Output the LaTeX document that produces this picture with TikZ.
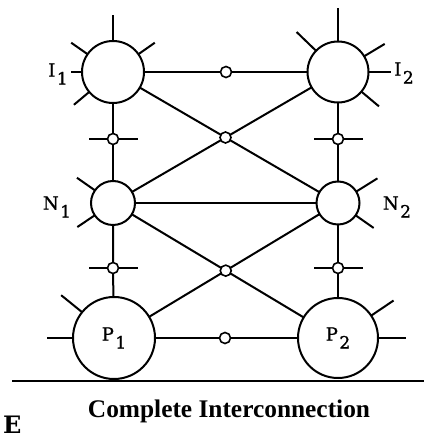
\documentclass[tikz,border=0pt]{standalone}
\usepackage{fontspec}
\setmainfont{DejaVu Serif}
\newfontfamily\capfont{Liberation Serif}
\newfontfamily\labfont[FakeBold=1.2]{DejaVu Serif}
\usetikzlibrary{calc}
\newcommand\lab[2]{#1\hspace{1.5pt}\raisebox{-8pt}{\fontsize{17}{17}\selectfont #2}}
\newcommand\spk[3]{\draw (#1.#2) -- ++(#2:#3);}
\begin{document}
\begin{tikzpicture}[x=1pt,y=1pt,line width=2pt,
  unit/.style={circle,draw,inner sep=0pt,outer sep=0pt,minimum size=#1},
  jn/.style={circle,draw,fill=white,inner sep=0pt,outer sep=0pt,minimum size=11pt,line width=1.6pt},
  lbl/.style={inner sep=0pt,font=\labfont\fontsize{18}{18}\selectfont}]
\useasboundingbox (0,0) rectangle (424,441);
% big units
\node[unit=62pt] (I1) at (113,369) {};
\node[unit=61pt] (I2) at (338,369) {};
\node[unit=44pt] (N1) at (113,238) {};
\node[unit=43pt] (N2) at (338,238) {};
\node[unit=82pt,lbl] (P1) at (114,103) {\lab{P}{1}};
\node[unit=80pt,lbl] (P2) at (338,103) {\lab{P}{2}};
% junctions
\node[jn] (t1) at (226,369) {};
\node[jn] (b1) at (225,103) {};
\node[jn] (v1) at (113,302) {};
\node[jn] (v2) at (338,302) {};
\node[jn] (v3) at (113,173) {};
\node[jn] (v4) at (338,173) {};
\node[jn] (x1) at (intersection of I1.center--N2.center and N1.center--I2.center) {};
\node[jn] (x2) at (intersection of N1.center--P2.center and P1.center--N2.center) {};
% labels
\node[lbl] (lI1) at (58,367) {\lab{I}{1}};
\node[lbl] (lI2) at (404,368) {\lab{I}{2}};
\node[lbl] (lN1) at (57,234) {\lab{N}{1}};
\node[lbl] (lN2) at (397,234) {\lab{N}{2}};
% connectors
\draw (I1) -- (t1) -- (I2);
\draw (P1) -- (b1) -- (P2);
\draw (N1) -- (N2);
\draw (I1) -- (v1) -- (N1);
\draw (I2) -- (v2) -- (N2);
\draw (N1) -- (v3) -- (P1);
\draw (N2) -- (v4) -- (P2);
\draw (I1) -- (x1) -- (N2);
\draw (N1) -- (x1) -- (I2);
\draw (N1) -- (x2) -- (P2);
\draw (P1) -- (x2) -- (N2);
% cross bars on vertical junctions
\foreach \v in {v1,v2,v3,v4}{
  \draw (\v.west) -- ++(-19,0);
  \draw (\v.east) -- ++(19,0);
}
% spokes
\spk{I1}{90}{26}\spk{I1}{145}{20}\spk{I1}{35}{20}\spk{I1}{180}{11}\spk{I1}{220}{20}
\spk{I2}{90}{33}\spk{I2}{136}{27}\spk{I2}{31}{24}\spk{I2}{0}{22}\spk{I2}{-40}{23}
\spk{N1}{145}{22}\spk{N1}{214}{21}
\spk{N2}{32}{25}\spk{N2}{-35}{22}
\spk{P1}{141}{27}\spk{P1}{180}{26}
\spk{P2}{34}{27}\spk{P2}{0}{28}
% ground line
\draw[line width=2.4pt] (12,60) -- (424,60);
% caption
\node[inner sep=0pt,anchor=base] (cap) at (229,23) {\resizebox{282pt}{!}{\capfont\bfseries Complete Interconnection}};
\node[inner sep=0pt,anchor=base west,font=\bfseries\fontsize{24}{24}\selectfont] (E) at (2,7) {E};
\end{tikzpicture}
\end{document}
